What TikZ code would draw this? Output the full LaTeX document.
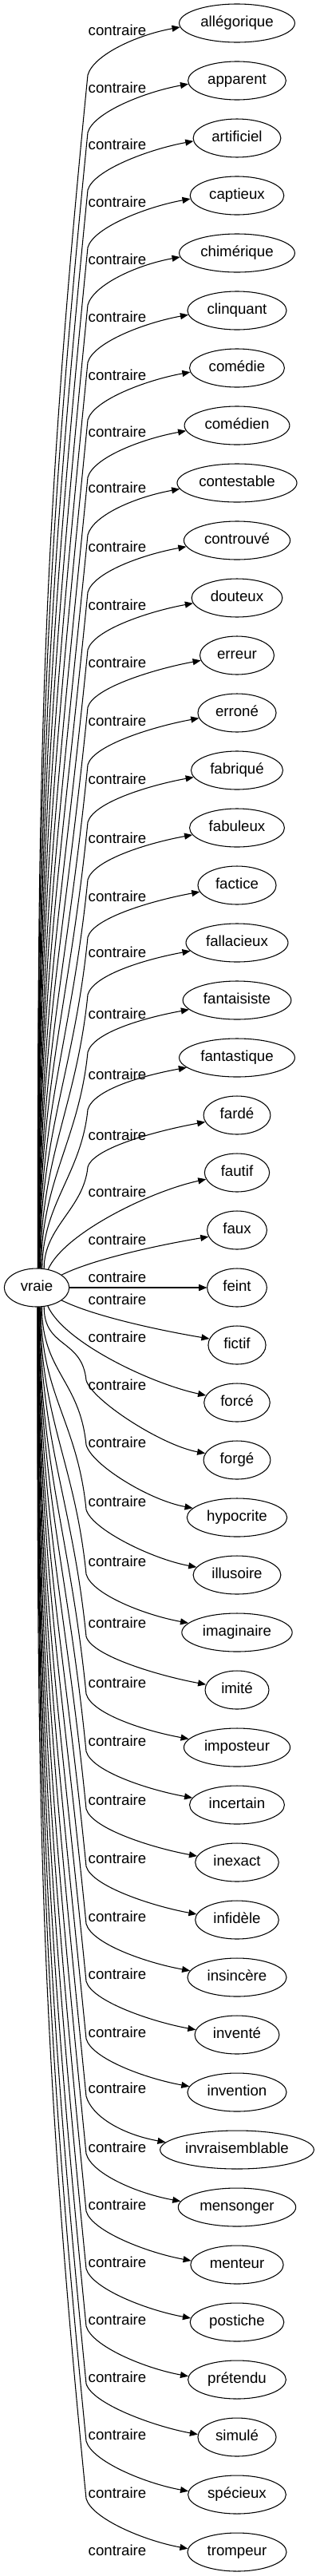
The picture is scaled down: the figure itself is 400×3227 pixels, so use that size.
\documentclass[tikz,border=0pt]{standalone}
\usepackage{fontspec}
\setmainfont{Liberation Sans}
\usetikzlibrary{shapes.geometric,arrows.meta}

\tikzset{
  word/.style={ellipse, draw, line width=0.8pt, minimum height=36pt, inner sep=0pt,
    text height=10pt, text depth=3pt},
  lbl/.style={inner sep=0pt, text height=10pt, text depth=3pt},
  edge/.style={line width=0.8pt, -{Triangle[length=7.5pt,width=6pt]}}
}

\begin{document}
\begin{tikzpicture}[x=0.75pt, y=-0.75pt, font=\fontsize{14}{17}\selectfont]
  \fontsize{14}{17}\selectfont
  \useasboundingbox (0,0) rectangle (400,3227);

  \node[word, minimum width=61pt] (vraie) at (46,1613) {vraie};

  % un nodo per ogni contrario, con arco ed etichetta
  \foreach \w/\lo [count=\i from 0] in {allégorique/11, apparent/11, artificiel/10,
      captieux/10, chimérique/10, clinquant/10, comédie/11, comédien/10,
      contestable/8, controuvé/10, douteux/11, erreur/11, erroné/12, fabriqué/13,
      fabuleux/15, factice/16, fallacieux/14, fantaisiste/19, fantastique/23,
      fardé/27, fautif/26, faux/14, feint/-11, fictif/-8, forcé/-20, forgé/-20,
      hypocrite/-18, illusoire/-15, imaginaire/-10, imité/-7, imposteur/-6,
      incertain/-4, inexact/-3, infidèle/-2, insincère/-2, inventé/-1,
      invention/-3, invraisemblable/-1, mensonger/-1, menteur/-1, postiche/-1,
      prétendu/-1, simulé/-1, spécieux/0, trompeur/0}{
    \pgfmathsetmacro\yy{29+72*\i}
    \pgfmathsetmacro\nw{1.25*width("\w")+23}
    \node[word, minimum width=\nw pt] (n\i) at (297,\yy) {\w};
    \node[lbl] (l\i) at (147,\yy+\lo) {contraire};

    \pgfmathtruncatemacro\dd{\i-22}
    \pgfmathtruncatemacro\absd{abs(\dd)}
    \pgfmathsetmacro\sg{\dd<0 ? -1 : 1}
    \pgfmathsetmacro\sang{\dd<0 ? 90-63/max(\absd,1) : 270+63/max(\absd,1)}
    \pgfmathsetmacro\eang{180-\sg*max(4,13.5-0.5*\absd)}
    \ifcase\absd\relax
      \draw[edge] (vraie) -- (n\i);
    \or
      \draw[edge] (vraie.\sang) .. controls +(40,20*\sg) and +(-60,-10*\sg) .. (n\i.\eang);
    \or
      \draw[edge] (vraie.\sang) .. controls +(20,45*\sg) and +(-70,-15*\sg) .. (n\i.\eang);
    \else
      \pgfmathsetmacro\bendy{\yy + (\dd<0 ? 65 : -67-max(0,60-9*\absd))}
      \pgfmathsetmacro\bendx{\dd<0 ? 110 : 108}
      \pgfmathsetmacro\lenv{0.4*(72*\absd-85)}
      \draw[edge] (vraie.\sang) .. controls +(0,\sg*\lenv) and +(-0.1*\lenv,-\sg*\lenv) .. (\bendx,\bendy)
        .. controls +(7,25*\sg) and +(-55,-10*\sg) .. (n\i.\eang);
    \fi
  }

  % secondo arco verso feint
  \draw[edge] (vraie) -- (n22);
  \node[lbl] (l45) at (147,1630) {contraire};
\end{tikzpicture}
\end{document}
